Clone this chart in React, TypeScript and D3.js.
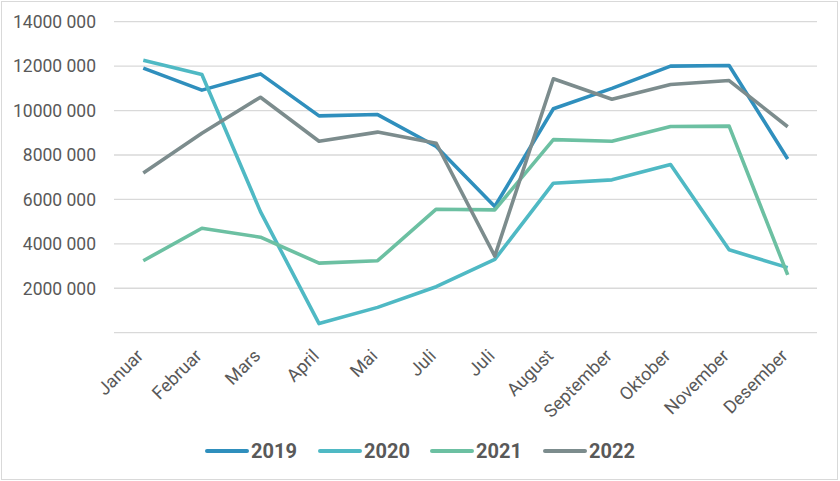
import { useEffect, useRef } from 'react';
import * as d3 from 'd3';

const months = [
  'Januar', 'Februar', 'Mars', 'April', 'Mai', 'Juli',
  'Juli', 'August', 'September', 'Oktober', 'November', 'Desember',
];
const years = ['2019', '2020', '2021', '2022'];
const colors = ['#2f8fbd', '#4fb9c4', '#6cc0a2', '#7c8c8d'];

const v2019 = [11.91, 10.92, 11.65, 9.76, 9.82, 8.38, 5.68, 10.08, 11.0, 12.0, 12.03, 7.82];
const v2020 = [12.27, 11.62, 5.45, 0.41, 1.14, 2.07, 3.3, 6.73, 6.88, 7.57, 3.73, 2.93];
const v2021 = [3.24, 4.7, 4.3, 3.13, 3.24, 5.56, 5.53, 8.69, 8.62, 9.28, 9.3, 2.6];
const v2022 = [7.19, 8.98, 10.6, 8.62, 9.03, 8.53, 3.45, 11.43, 10.51, 11.17, 11.35, 9.27];
const series = [v2019, v2020, v2021, v2022];

const yTicks = [0, 2, 4, 6, 8, 10, 12, 14];

const W = 840;
const H = 481;
const font = 'Roboto, "Noto Sans", sans-serif';

export default function App() {
  const ref = useRef<SVGSVGElement>(null);

  useEffect(() => {
    const svg = d3.select(ref.current);
    svg.selectAll('*').remove();

    const x = d3.scaleBand<number>().domain(d3.range(months.length)).range([114, 817]);
    const y = d3.scaleLinear().domain([0, 14]).range([332.7, 21.7]);
    const cx = (i: number) => (x(i) ?? 0) + x.bandwidth() / 2;

    svg.append('rect')
      .attr('x', 1.5).attr('y', 1.5)
      .attr('width', W - 4).attr('height', H - 3)
      .attr('fill', '#fff').attr('stroke', '#d9d9d9');

    // grid + y labels
    const grid = svg.append('g');
    yTicks.forEach((t) => {
      grid.append('line')
        .attr('x1', 114).attr('x2', 817)
        .attr('y1', y(t)).attr('y2', y(t))
        .attr('stroke', '#d9d9d9').attr('stroke-width', 1.3);
      if (t > 0) {
        grid.append('text')
          .attr('x', 96).attr('y', y(t)).attr('dy', '0.36em')
          .attr('text-anchor', 'end')
          .attr('font-family', font).attr('font-size', 17.5)
          .attr('fill', '#595959')
          .text(`${t * 1000} 000`);
      }
    });

    // x labels
    months.forEach((m, i) => {
      svg.append('text')
        .attr('transform', `translate(${cx(i) + 1},${357}) rotate(-45)`)
        .attr('text-anchor', 'end')
        .attr('font-family', font).attr('font-size', 18)
        .attr('fill', '#595959')
        .text(m);
    });

    const line = d3.line<number>().x((_, i) => cx(i)).y((d) => y(d));
    series.forEach((s, k) => {
      svg.append('path')
        .attr('d', line(s))
        .attr('fill', 'none')
        .attr('stroke', colors[k])
        .attr('stroke-width', 3.6)
        .attr('stroke-linejoin', 'round');
    });

    // legend
    const lx = [207, 320, 432, 545];
    years.forEach((yr, k) => {
      svg.append('line')
        .attr('x1', lx[k]).attr('x2', lx[k] + 40)
        .attr('y1', 451).attr('y2', 451)
        .attr('stroke', colors[k]).attr('stroke-width', 4)
        .attr('stroke-linecap', 'round');
      svg.append('text')
        .attr('x', lx[k] + 44).attr('y', 458)
        .attr('font-family', font).attr('font-size', 20).attr('font-weight', 700)
        .attr('fill', '#595959')
        .text(yr);
    });
  }, []);

  return (
    <svg
      ref={ref}
      width={W}
      height={H}
      style={{ position: 'absolute', left: 0, top: 0, display: 'block' }}
    />
  );
}
